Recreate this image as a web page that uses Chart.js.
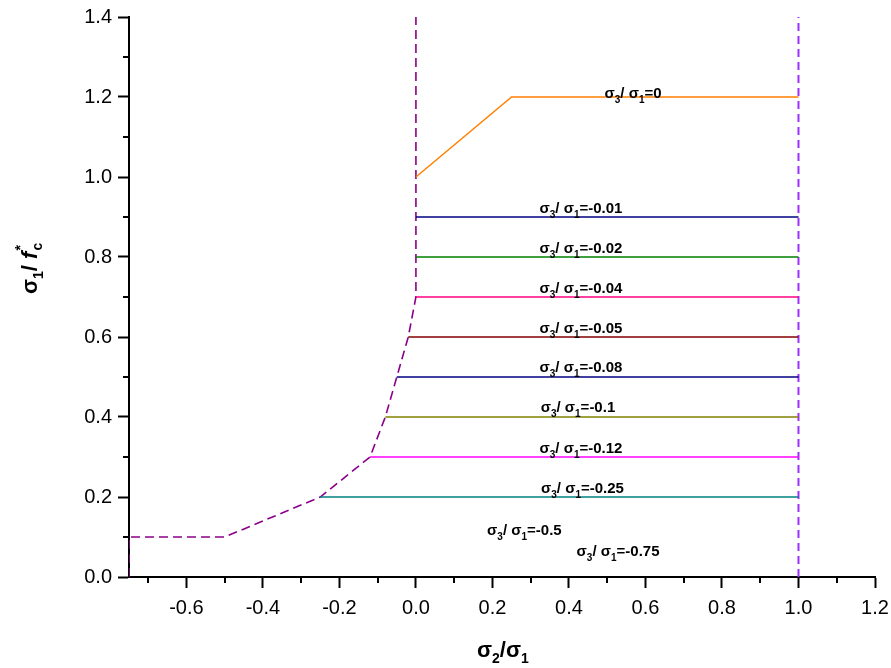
<!DOCTYPE html>
<html>
<head>
<meta charset="utf-8">
<script src="https://cdn.jsdelivr.net/npm/chart.js@4/dist/chart.umd.min.js"></script>
<style>
html,body{margin:0;padding:0;background:#fff;}
#wrap{width:891px;height:668px;}
</style>
</head>
<body>
<div id="wrap"><canvas id="c" width="891" height="668"></canvas></div>
<script>
// ---- data ----
const xMajorTicks = [-0.6,-0.4,-0.2,0.0,0.2,0.4,0.6,0.8,1.0,1.2];
const xMinorTicks = [-0.7,-0.5,-0.3,-0.1,0.1,0.3,0.5,0.7,0.9,1.1];
const yMajorTicks = [0.0,0.2,0.4,0.6,0.8,1.0,1.2,1.4];
const yMinorTicks = [0.1,0.3,0.5,0.7,0.9,1.1,1.3];

// failure envelope (dashed purple)
const envelopeX = [-0.75,-0.75,-0.5,-0.25,-0.12,-0.08,-0.05,-0.02,0.0,0.0];
const envelopeY = [0.0,0.1,0.1,0.2,0.3,0.4,0.5,0.6,0.7,1.4];
// sigma2/sigma1 = 1 boundary (dashed violet)
const boundaryX = [1.0,1.0];
const boundaryY = [0.0,1.4];

// series sigma3/sigma1
const seriesNames = ['0','-0.01','-0.02','-0.04','-0.05','-0.08','-0.1','-0.12','-0.25'];
const seriesX = [
  [0.0,0.25,1.0],[0.0,1.0],[0.0,1.0],[0.0,1.0],[-0.02,1.0],[-0.05,1.0],[-0.08,1.0],[-0.12,1.0],[-0.25,1.0]
];
const seriesY = [
  [1.0,1.2,1.2],[0.9,0.9],[0.8,0.8],[0.7,0.7],[0.6,0.6],[0.5,0.5],[0.4,0.4],[0.3,0.3],[0.2,0.2]
];
const seriesColors = ['#ff8000','#000080','#008000','#ff0080','#800000','#000080','#808000','#ff00ff','#008080'];

// inline labels sigma3/sigma1 = ...
const labelRatios = ['0','-0.01','-0.02','-0.04','-0.05','-0.08','-0.1','-0.12','-0.25','-0.5','-0.75'];
const labelX = [0.493,0.323,0.323,0.323,0.323,0.323,0.326,0.323,0.327,0.186,0.420];
const labelY = [1.197,0.910,0.809,0.709,0.611,0.513,0.413,0.311,0.211,0.105,0.053];

// ---- build datasets ----
function pts(xs, ys){ return xs.map((x,i)=>({x:x,y:ys[i]})); }
const datasets = [];
seriesNames.forEach((n,i)=>{
  datasets.push({label:'σ3/σ1='+n, data:pts(seriesX[i],seriesY[i]), borderColor:seriesColors[i],
    borderWidth:1.5, pointRadius:0, showLine:true, fill:false, tension:0});
});
datasets.push({label:'envelope', data:pts(envelopeX,envelopeY), borderColor:'#8b008b',
  borderWidth:1.6, borderDash:[9,5], pointRadius:0, showLine:true, fill:false, tension:0});
datasets.push({label:'boundary', data:pts(boundaryX,boundaryY), borderColor:'#9b30ff',
  borderWidth:2, borderDash:[8,5], pointRadius:0, showLine:true, fill:false, tension:0});

function drawRich(ctx, x, y, segs){
  let cx = x;
  segs.forEach(s=>{
    ctx.font = s.font;
    ctx.fillText(s.t, cx + (s.dx||0), y + (s.dy||0));
    if(!s.noAdvance) cx += ctx.measureText(s.t).width + (s.dx||0);
  });
  return cx - x;
}

const FONT = '"Liberation Sans", Arial, sans-serif';

const annotPlugin = {
  id:'annot',
  afterDraw(chart){
    const ctx = chart.ctx;
    const xs = chart.scales.x, ys = chart.scales.y;
    const bottom = chart.chartArea.bottom, left = chart.chartArea.left;
    ctx.save();
    // minor ticks
    ctx.strokeStyle = '#000'; ctx.lineWidth = 2;
    ctx.beginPath();
    xMinorTicks.forEach(v=>{ const px = Math.round(xs.getPixelForValue(v)); ctx.moveTo(px, bottom); ctx.lineTo(px, bottom+6); });
    yMinorTicks.forEach(v=>{ const py = Math.round(ys.getPixelForValue(v)); ctx.moveTo(left, py); ctx.lineTo(left-6, py); });
    ctx.stroke();

    // inline labels
    ctx.fillStyle = '#000';
    ctx.textBaseline = 'alphabetic';
    ctx.textAlign = 'left';
    const big = 'bold 15px ' + FONT, small = 'bold 10px ' + FONT;
    labelRatios.forEach((r,i)=>{
      const px = xs.getPixelForValue(labelX[i]);
      const py = ys.getPixelForValue(labelY[i]);
      drawRich(ctx, px, py, [
        {t:'σ', font:big},
        {t:'3', font:small, dy:5},
        {t:'/ σ', font:big},
        {t:'1', font:small, dy:5},
        {t:'='+r, font:big}
      ]);
    });

    // x axis title
    const tb = 'bold 22px ' + FONT, ts = 'bold 14px ' + FONT;
    drawRich(ctx, 477, 657, [
      {t:'σ', font:tb},
      {t:'2', font:ts, dy:6},
      {t:'/σ', font:tb},
      {t:'1', font:ts, dy:6}
    ]);

    // y axis title (rotated)
    ctx.translate(37, 294);
    ctx.rotate(-Math.PI/2);
    drawRich(ctx, 0, 0, [
      {t:'σ', font:tb},
      {t:'1', font:ts, dy:6},
      {t:'/ ', font:tb},
      {t:'f', font:'italic bold 22px ' + FONT},
      {t:'*', font:ts, dy:-12, dx:1, noAdvance:true},
      {t:'c', font:ts, dy:5, dx:1}
    ]);
    ctx.restore();
  }
};

new Chart(document.getElementById('c'), {
  type:'scatter',
  data:{datasets:datasets},
  options:{
    responsive:false,
    animation:false,
    events:[],
    layout:{padding:{left:0, top:17, right:16, bottom:0}},
    plugins:{legend:{display:false}, tooltip:{enabled:false}},
    scales:{
      x:{
        type:'linear', min:-0.75, max:1.2,
        afterBuildTicks(s){ s.ticks = xMajorTicks.map(v=>({value:v})); },
        afterFit(s){ s.height = 91; s.paddingLeft = 0; s.paddingRight = 0; },
        border:{display:true, color:'#000', width:2},
        grid:{display:true, drawOnChartArea:false, drawTicks:true, tickLength:11, tickColor:'#000', tickWidth:2},
        ticks:{color:'#000', font:{family:FONT, size:20}, padding:8, maxRotation:0, autoSkip:false,
          callback:(v)=>Number(v).toFixed(1)}
      },
      y:{
        type:'linear', min:0, max:1.4,
        afterBuildTicks(s){ s.ticks = yMajorTicks.map(v=>({value:v})); },
        afterFit(s){ s.width = 129; s.paddingTop = 0; s.paddingBottom = 0; },
        border:{display:true, color:'#000', width:2},
        grid:{display:true, drawOnChartArea:false, drawTicks:true, tickLength:11, tickColor:'#000', tickWidth:2},
        ticks:{color:'#000', font:{family:FONT, size:20}, padding:6, autoSkip:false,
          callback:(v)=>Number(v).toFixed(1)}
      }
    }
  },
  plugins:[annotPlugin]
});
</script>
</body>
</html>
